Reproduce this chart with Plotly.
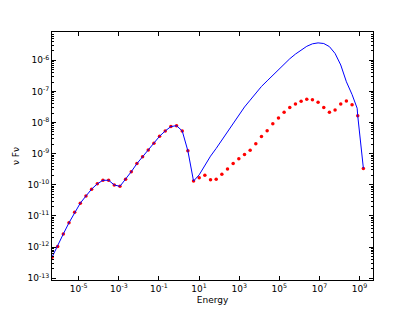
import plotly.graph_objects as go

# log10(Energy) of the sampled points
log_energy = [-6.330, -6.048, -5.766, -5.483, -5.201, -4.919, -4.637, -4.355,
              -4.072, -3.790, -3.508, -3.226, -2.944, -2.661, -2.379, -2.097,
              -1.815, -1.533, -1.250, -0.968, -0.686, -0.404, -0.122, 0.161,
              0.443, 0.725, 1.007, 1.289, 1.572, 1.854, 2.136, 2.418,
              2.700, 2.983, 3.265, 3.547, 3.829, 4.111, 4.394, 4.676,
              4.958, 5.240, 5.522, 5.805, 6.087, 6.369, 6.651, 6.933,
              7.216, 7.498, 7.780, 8.062, 8.344, 8.627, 8.909, 9.191]

# log10(nu F nu), red points
log_nufnu_points = [-12.33, -11.98, -11.58, -11.22, -10.88, -10.59, -10.36, -10.14,
                    -9.97, -9.855, -9.855, -10.006, -10.05, -9.82, -9.58, -9.32,
                    -9.10, -8.88, -8.665, -8.44, -8.27, -8.13, -8.10, -8.27,
                    -8.91, -9.88, -9.77, -9.695, -9.836, -9.823, -9.66, -9.49,
                    -9.32, -9.16, -9.03, -8.89, -8.68, -8.45, -8.26, -8.035,
                    -7.85, -7.67, -7.52, -7.40, -7.315, -7.25, -7.27, -7.35,
                    -7.52, -7.67, -7.60, -7.40, -7.305, -7.43, -7.78, -9.48]

# blue curve
log_energy_line = log_energy[:54] + [8.88, 8.909, 9.191]
log_nufnu_line = [-12.33, -11.98, -11.58, -11.22, -10.88, -10.59, -10.36, -10.14,
                  -9.97, -9.855, -9.855, -10.006, -10.05, -9.82, -9.58, -9.32,
                  -9.10, -8.88, -8.665, -8.44, -8.27, -8.13, -8.10, -8.27,
                  -8.91, -9.88, -9.68, -9.36, -9.08, -8.83, -8.56, -8.28,
                  -8.00, -7.73, -7.50, -7.28, -7.05, -6.84, -6.66, -6.48,
                  -6.29, -6.11, -5.95, -5.80, -5.66, -5.55, -5.47, -5.44,
                  -5.46, -5.56, -5.78, -6.15, -6.69, -7.10, -7.54, -7.78, -9.47]

x_tick_exp = [-5, -3, -1, 1, 3, 5, 7, 9]
y_tick_exp = [-13, -12, -11, -10, -9, -8, -7, -6]

ex = [10 ** v for v in log_energy]
ey = [10 ** v for v in log_nufnu_points]
lx = [10 ** v for v in log_energy_line]
ly = [10 ** v for v in log_nufnu_line]

fig = go.Figure()
fig.add_trace(go.Scatter(x=ex, y=ey, mode="markers",
                         marker=dict(color="#ff0000", size=3.5, symbol="circle",
                                     line=dict(width=0)),
                         showlegend=False))
fig.add_trace(go.Scatter(x=lx, y=ly, mode="lines",
                         line=dict(color="#0000ff", width=1),
                         showlegend=False))

font = dict(family="DejaVu Sans", size=9, color="black")

minor_y = []
for e in range(-14, -4):
    for m in range(2, 10):
        minor_y.append(m * 10 ** e)

# page body has an 8px default margin; figure sized to fit the 415x313 window
fig.update_layout(
    width=399, height=297,
    margin=dict(l=44, r=34, t=24, b=25),
    paper_bgcolor="white", plot_bgcolor="white",
    font=font,
    xaxis=dict(type="log", range=[-6.33, 9.67], automargin=False,
               tickvals=[10 ** e for e in x_tick_exp],
               ticktext=["10<sup>%d</sup>" % e for e in x_tick_exp],
               ticks="inside", ticklen=4, tickcolor="black",
               showline=True, linecolor="black", linewidth=1, mirror="allticks",
               showgrid=False, zeroline=False,
               title=dict(text="Energy", font=font, standoff=5)),
    yaxis=dict(type="log", range=[-13.06, -5.09], automargin=False,
               tickvals=[10 ** e for e in y_tick_exp],
               ticktext=["10<sup>%d</sup>" % e for e in y_tick_exp],
               ticks="inside", ticklen=4, tickcolor="black",
               showline=True, linecolor="black", linewidth=1, mirror="allticks",
               showgrid=False, zeroline=False,
               minor=dict(tickmode="array", tickvals=minor_y, ticks="inside",
                          ticklen=2, tickcolor="black", showgrid=False),
               title=dict(text="ν Fν", font=font, standoff=6)),
)

fig.write_html("out.html")
